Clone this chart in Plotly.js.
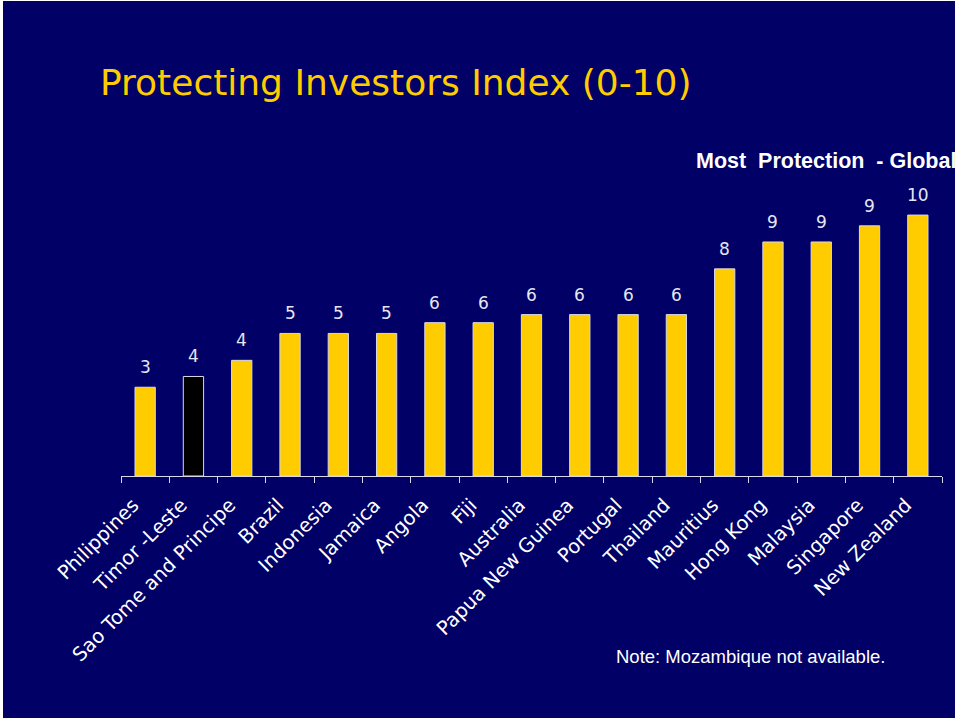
<!DOCTYPE html>
<html>
<head>
<meta charset="utf-8">
<script src="https://cdn.plot.ly/plotly-3.0.1.min.js"></script>
<style>
html,body{margin:0;padding:0;background:#000066;}
#chart{width:955px;height:719px;}
</style>
</head>
<body>
<div id="chart"></div>
<script>
const countries = ["Philippines","Timor -Leste","Sao Tome and Principe","Brazil","Indonesia","Jamaica","Angola","Fiji","Australia","Papua New Guinea","Portugal","Thailand","Mauritius","Hong Kong","Malaysia","Singapore","New Zealand"];
const values = [3.3,3.7,4.3,5.3,5.3,5.3,5.7,5.7,6.0,6.0,6.0,6.0,7.7,8.7,8.7,9.3,9.7];
const highlight = "Timor -Leste";

const colors = countries.map(c => c === highlight ? "#000000" : "#FFCC00");

// pixel -> paper helpers (plot area: x 121..942, y 207..476)
const px = p => (p - 121) / 821;
const py = p => (476 - p) / 269;

const annotations = countries.map((c, i) => ({
  x: c, y: values[i], xref: "x", yref: "y",
  text: String(Math.round(values[i])),
  showarrow: false, yanchor: "bottom", yshift: 8,
  font: {family: "DejaVu Sans, Verdana, sans-serif", size: 17, color: "#E6E6F2"}
}));
annotations.push({
  xref: "paper", yref: "paper", x: px(694), y: py(161),
  xanchor: "left", yanchor: "middle", showarrow: false,
  text: "<b>Most  Protection  - Global</b>",
  font: {family: "Liberation Sans, Arial, sans-serif", size: 21.5, color: "#FFFFFF"}
});
annotations.push({
  xref: "paper", yref: "paper", x: px(614), y: py(656),
  xanchor: "left", yanchor: "middle", showarrow: false,
  text: "Note: Mozambique not available.",
  font: {family: "Liberation Sans, Arial, sans-serif", size: 18.5, color: "#FFFFFF"}
});

const shapes = [
  {type: "rect", xref: "paper", yref: "paper", x0: px(0), x1: px(3), y0: py(719), y1: py(0), fillcolor: "#FFFFFF", line: {width: 0}, layer: "above"},
  {type: "rect", xref: "paper", yref: "paper", x0: px(0), x1: px(955), y0: py(1), y1: py(0), fillcolor: "#FFFFFF", line: {width: 0}, layer: "above"},
  {type: "rect", xref: "paper", yref: "paper", x0: px(0), x1: px(955), y0: py(719), y1: py(718), fillcolor: "#FFFFFF", line: {width: 0}, layer: "above"}
];

const trace = {
  type: "bar", x: countries, y: values,
  marker: {color: colors, line: {color: "#D8D8E8", width: 1}},
  hoverinfo: "x+y"
};

const layout = {
  width: 955, height: 719,
  paper_bgcolor: "#000066", plot_bgcolor: "#000066",
  margin: {l: 121, r: 13, t: 207, b: 243},
  bargap: 0.58,
  showlegend: false,
  title: {
    text: "Protecting Investors Index (0-10)",
    x: 100/955, xanchor: "left", y: 1 - 82/719, yanchor: "middle",
    font: {family: "DejaVu Sans, Tahoma, sans-serif", size: 36, color: "#FFCC00"}
  },
  xaxis: {
    type: "category",
    tickangle: -45,
    tickson: "boundaries",
    ticks: "outside", ticklen: 6, tickcolor: "#D8D8E8", tickwidth: 1,
    ticklabelstandoff: 9,
    ticklabelshift: -12,
    showline: true, linecolor: "#D8D8E8", linewidth: 1,
    showgrid: false, zeroline: false,
    tickfont: {family: "DejaVu Sans, Verdana, sans-serif", size: 19.5, color: "#FFFFFF"},
    fixedrange: true
  },
  yaxis: {
    range: [0, 10], visible: false, showgrid: false, zeroline: false, fixedrange: true
  },
  annotations: annotations,
  shapes: shapes
};

Plotly.newPlot("chart", [trace], layout, {displayModeBar: false, staticPlot: true});
</script>
</body>
</html>
